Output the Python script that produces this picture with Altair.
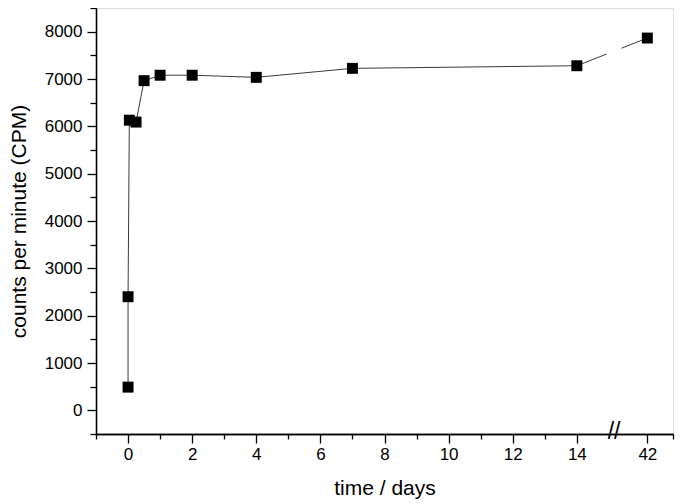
import altair as alt
import pandas as pd

# data
time_days = [0, 0, 0.04, 0.25, 0.5, 1, 2, 4, 7, 14, 42]
cpm = [490, 2400, 6130, 6090, 6965, 7080, 7080, 7035, 7225, 7280, 7865]

# broken axis: 42 days is drawn just after the break
BREAK_POS = {42: 16.2}
xpos = [BREAK_POS.get(t, t) for t in time_days]

df = pd.DataFrame({"t": time_days, "x": xpos, "cpm": cpm, "order": list(range(len(cpm)))})
main = df[df["t"] <= 14]
tail = df[df["t"] >= 14]

x_major = list(range(0, 15, 2)) + [16.2]
x_minor = [-1] + list(range(1, 14, 2)) + [17]
y_major = list(range(0, 8001, 1000))
y_minor = list(range(-500, 8501, 1000))

font = "Liberation Sans"

x_scale = alt.Scale(domain=[-1, 17], nice=False, zero=False)
y_scale = alt.Scale(domain=[-500, 8500], nice=False, zero=False)

common = dict(
    grid=False,
    domainColor="black",
    tickColor="black",
    domainWidth=1.3,
    tickWidth=1.3,
    labelFont=font,
    labelFontSize=17,
    labelColor="black",
    labelOverlap=False,
    labelFlush=False,
    titleFont=font,
    titleFontSize=21,
    titleFontWeight="normal",
    titleColor="black",
    format="d",
)

x_axis = alt.Axis(
    title="time / days",
    orient="bottom",
    values=x_major,
    labelExpr="datum.value > 16 ? '42' : datum.label",
    tickSize=9,
    labelPadding=3,
    titlePadding=15,
    **common,
)
x_axis_minor = alt.Axis(
    title=None, orient="bottom", values=x_minor, tickSize=5, labels=False,
    grid=False, domainColor="black", tickColor="black", domainWidth=1.3, tickWidth=1.3,
)

y_axis = alt.Axis(
    title="counts per minute (CPM)",
    orient="left",
    values=y_major,
    tickSize=9,
    labelPadding=5,
    titlePadding=15,
    **common,
)
y_axis_minor = alt.Axis(
    title=None, orient="left", values=y_minor, tickSize=6, labels=False,
    grid=False, domainColor="black", tickColor="black", domainWidth=1.3, tickWidth=1.3,
)

line_main = alt.Chart(main).mark_line(color="#3a3a3a", strokeWidth=1).encode(
    x=alt.X("x:Q", scale=x_scale, axis=x_axis),
    y=alt.Y("cpm:Q", scale=y_scale, axis=y_axis),
    order="order:O",
)

line_tail = alt.Chart(tail).mark_line(color="#3a3a3a", strokeWidth=1, strokeDash=[32, 16, 200, 1]).encode(
    x=alt.X("x:Q", scale=x_scale, axis=x_axis_minor),
    y=alt.Y("cpm:Q", scale=y_scale, axis=y_axis_minor),
    order="order:O",
)

points = alt.Chart(df).mark_point(shape="square", filled=True, color="black", size=120, opacity=1).encode(
    x=alt.X("x:Q", scale=x_scale, axis=None),
    y=alt.Y("cpm:Q", scale=y_scale, axis=None),
)

brk = pd.DataFrame({"x": [15.16], "y": [-500], "label": ["//"]})
slashes = alt.Chart(brk).mark_text(font=font, fontSize=23, color="black", baseline="middle", align="center", dy=-2).encode(
    x=alt.X("x:Q", scale=x_scale, axis=None),
    y=alt.Y("y:Q", scale=y_scale, axis=None),
    text="label:N",
)

chart = alt.layer(line_main, line_tail, points, slashes).resolve_axis(
    x="independent", y="independent"
).properties(
    width=577,
    height=426,
    autosize=alt.AutoSizeParams(type="none"),
    padding={"left": 88, "top": 0, "right": 4, "bottom": 70},
).configure_view(stroke=None).configure(background="white")

chart.save("out.html", embed_options={"renderer": "svg", "actions": False})
